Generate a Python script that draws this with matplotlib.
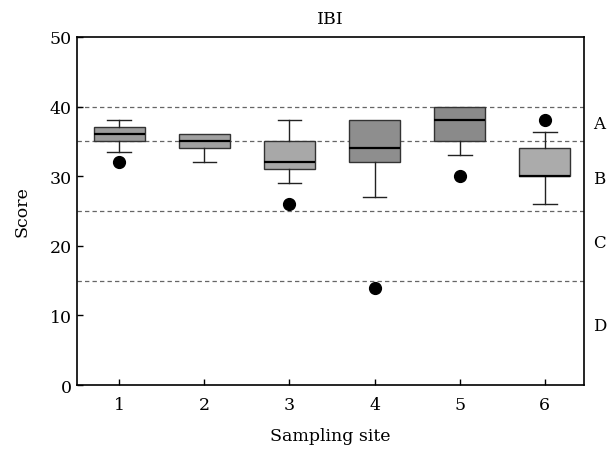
import matplotlib
matplotlib.use("Agg")
import matplotlib.pyplot as plt

# box plot summary per sampling site
sites = [1, 2, 3, 4, 5, 6]
whis_lo = [33.5, 32, 29, 27, 33, 26]
q1 = [35, 34, 31, 32, 35, 30]
med = [36, 35, 32, 34, 38, 30]
q3 = [37, 36, 35, 38, 40, 34]
whis_hi = [38, 36, 38, 38, 40, 36.3]
outliers = [[32], [], [26], [14], [30], [38]]
box_colors = ['#9c9c9c', '#a0a0a0', '#a8a8a8', '#8e8e8e', '#8a8a8a', '#ababab']

# class boundaries and labels
class_bounds = [40, 35, 25, 15]
class_labels = ['A', 'B', 'C', 'D']
class_label_y = [37.6, 29.6, 20.5, 8.6]

plt.rcParams['font.family'] = 'DejaVu Serif'

fig = plt.figure(figsize=(6.1, 4.52), dpi=100)
ax = fig.add_axes([0.126, 0.146, 0.831, 0.77])

stats = []
for i in range(len(sites)):
    stats.append({'whislo': whis_lo[i], 'q1': q1[i], 'med': med[i], 'q3': q3[i],
                  'whishi': whis_hi[i], 'fliers': outliers[i]})

for b in class_bounds:
    ax.axhline(b, color='#666666', linestyle=(0, (3.5, 2.5)), linewidth=0.9, zorder=1)

bp = ax.bxp(stats, positions=sites, widths=0.6, patch_artist=True, showfliers=True,
            boxprops=dict(edgecolor='#333333', linewidth=1),
            medianprops=dict(color='black', linewidth=1.6),
            whiskerprops=dict(color='#222222', linewidth=1),
            capprops=dict(color='#222222', linewidth=1),
            capwidths=0.28,
            flierprops=dict(marker='o', markerfacecolor='black', markeredgecolor='black',
                            markersize=8.5))
for patch, c in zip(bp['boxes'], box_colors):
    patch.set_facecolor(c)
    patch.set_zorder(2)
# no upper cap where the whisker ends at the box
for i in range(len(sites)):
    if whis_hi[i] <= q3[i]:
        bp['caps'][2 * i + 1].set_visible(False)

ax.set_xlim(0.5, 6.46)
ax.set_ylim(0, 50)
ax.set_yticks([0, 10, 20, 30, 40, 50])
ax.set_xticks(sites)
ax.set_xticklabels([str(s) for s in sites])
ax.tick_params(direction='in', length=4, labelsize=12.5, width=1)
ax.tick_params(axis='x', pad=8)
for sp in ax.spines.values():
    sp.set_linewidth(1.2)

for lab, y in zip(class_labels, class_label_y):
    ax.text(1.018, y, lab, transform=ax.get_yaxis_transform(), fontsize=12,
            ha='left', va='center')

ax.set_title('IBI', fontsize=12.5, pad=10)
ax.set_xlabel('Sampling site', fontsize=12.5, labelpad=10)
ax.set_ylabel('Score', fontsize=12.5, labelpad=14)

fig.savefig('out.png', dpi=100)
